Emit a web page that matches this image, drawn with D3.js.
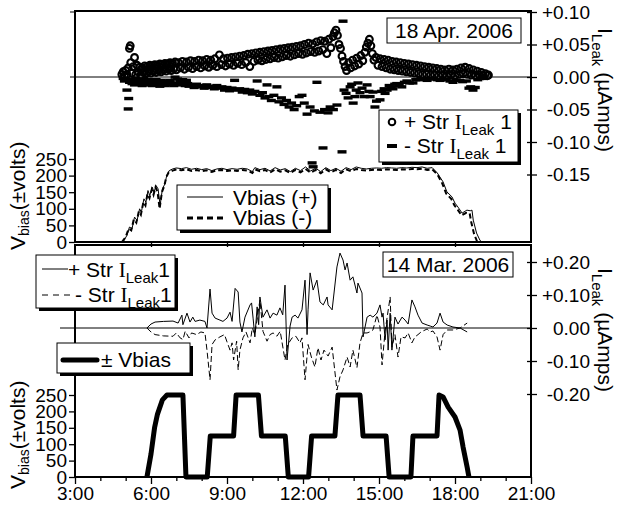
<!DOCTYPE html>
<html>
<head>
<meta charset="utf-8">
<script src="https://d3js.org/d3.v7.min.js"></script>
<style>
  body { margin: 0; background: #fff; }
  svg { display: block; font-family: "Liberation Sans", Arial, sans-serif; }
</style>
</head>
<body>
<div id="chart"></div>
<script>
// ---- data (hours of day, µA / volts) ----
// 18 Apr. 2006 : + string leak current (circles)
const aprPlusLeak = [
  [4.85,0.004],[4.9,0.008],[4.95,0.002],[5.0,0.01],[5.05,0.004],[5.1,0.014],[5.15,0.044],[5.18,0.048],[5.2,0.022],
  [5.25,0.006],[5.3,0.016],[5.35,0.03],[5.4,0.004],[5.45,0.018],[5.5,0.008],[5.55,0.015],[5.6,0.003],[5.65,0.014],
  [5.7,0.007],[5.75,0.017],[5.8,0.005],[5.85,0.016],[5.9,0.008],[5.95,0.018],[6.0,0.006],[6.05,0.017],[6.1,0.009],
  [6.15,0.019],[6.2,0.007],[6.25,0.018],[6.3,0.01],[6.35,0.02],[6.4,0.008],[6.45,0.019],[6.5,0.011],[6.55,0.021],
  [6.6,0.009],[6.65,0.02],[6.7,0.012],[6.75,0.022],[6.8,0.01],[6.85,0.021],[6.9,0.013],[6.95,0.023],[7.0,0.011],
  [7.08,0.022],[7.16,0.014],[7.24,0.024],[7.32,0.012],[7.4,0.023],[7.48,0.015],[7.56,0.025],[7.64,0.013],
  [7.72,0.024],[7.8,0.016],[7.88,0.026],[7.96,0.014],[8.04,0.025],[8.12,0.017],[8.2,0.027],[8.28,0.015],
  [8.36,0.026],[8.44,0.018],[8.52,0.028],[8.6,0.016],[8.7,0.034],[8.78,0.019],[8.86,0.028],[8.94,0.017],
  [9.02,0.029],[9.1,0.02],[9.18,0.03],[9.26,0.018],[9.34,0.031],[9.42,0.021],[9.5,0.032],[9.58,0.019],
  [9.66,0.033],[9.74,0.022],[9.82,0.035],[9.9,0.016],[9.98,0.036],[10.06,0.024],[10.14,0.037],[10.22,0.026],
  [10.3,0.038],[10.38,0.025],[10.46,0.039],[10.54,0.027],[10.62,0.04],[10.7,0.028],[10.78,0.041],[10.86,0.03],
  [10.94,0.042],[11.02,0.029],[11.1,0.043],[11.18,0.031],[11.26,0.044],[11.34,0.033],[11.42,0.045],[11.5,0.032],
  [11.58,0.046],[11.66,0.034],[11.74,0.047],[11.82,0.036],[11.9,0.048],[11.98,0.035],[12.06,0.05],[12.14,0.037],
  [12.22,0.052],[12.3,0.039],[12.38,0.051],[12.46,0.038],[12.54,0.054],[12.62,0.04],[12.7,0.056],[12.78,0.042],
  [12.86,0.055],[12.94,0.036],[13.02,0.058],[13.1,0.045],[13.18,0.062],[13.24,0.068],[13.3,0.072],[13.36,0.064],
  [13.42,0.05],[13.48,0.044],[13.54,0.032],[13.6,0.024],[13.66,0.016],[13.72,0.01],[13.8,0.022],[13.88,0.014],
  [13.96,0.026],[14.04,0.017],[14.12,0.029],[14.2,0.02],[14.28,0.033],[14.36,0.025],[14.44,0.038],[14.5,0.046],
  [14.56,0.052],[14.62,0.058],[14.68,0.048],[14.74,0.036],[14.8,0.026],[14.88,0.03],[14.96,0.018],[15.04,0.028],
  [15.12,0.016],[15.2,0.027],[15.28,0.014],[15.36,0.026],[15.44,0.012],[15.52,0.024],[15.6,0.011],[15.68,0.023],
  [15.76,0.01],[15.84,0.022],[15.92,0.009],[16.0,0.021],[16.08,0.008],[16.16,0.02],[16.24,0.007],[16.32,0.019],
  [16.4,0.006],[16.48,0.018],[16.56,0.005],[16.64,0.017],[16.72,0.004],[16.8,0.016],[16.88,0.004],[16.96,0.015],
  [17.04,0.003],[17.12,0.014],[17.2,0.003],[17.28,0.013],[17.36,0.002],[17.44,0.012],[17.52,0.003],[17.6,0.011],
  [17.68,0.002],[17.76,0.012],[17.84,0.003],[17.92,0.011],[18.0,0.002],[18.08,0.012],[18.16,0.004],[18.24,0.014],
  [18.32,0.005],[18.4,0.015],[18.48,0.004],[18.56,0.013],[18.64,0.003],[18.72,0.011],[18.8,0.002],[18.88,0.009],
  [18.96,0.003],[19.04,0.007],[19.12,0.002],[19.2,0.005],[19.28,0.002],[19.32,0.003]
];

// 18 Apr. 2006 : - string leak current (dashes)
const aprMinusLeak = [
  [4.9,-0.002],[4.95,-0.006],[5.0,-0.004],[5.05,-0.02],[5.1,-0.049],[5.12,-0.033],[5.15,-0.008],[5.2,-0.003],
  [5.25,-0.01],[5.3,-0.005],[5.35,-0.012],[5.4,-0.002],[5.45,-0.008],[5.5,-0.004],[5.55,-0.011],[5.6,-0.006],
  [5.65,-0.013],[5.7,-0.003],[5.75,-0.009],[5.8,-0.005],[5.85,-0.012],[5.9,-0.007],[5.95,-0.01],[6.0,-0.004],
  [6.05,-0.013],[6.1,-0.006],[6.15,-0.01],[6.2,-0.004],[6.25,-0.012],[6.3,-0.007],[6.35,-0.014],[6.4,-0.005],
  [6.45,-0.011],[6.5,-0.008],[6.55,-0.013],[6.6,-0.006],[6.65,-0.01],[6.7,-0.012],[6.75,-0.005],[6.8,-0.009],
  [6.9,-0.013],[6.95,0.0],[7.0,-0.01],[7.05,-0.003],[7.1,-0.012],[7.15,-0.006],[7.2,-0.011],[7.25,-0.004],
  [7.3,-0.009],[7.35,-0.013],[7.4,-0.005],[7.45,-0.01],[7.5,-0.014],[7.6,-0.012],[7.7,-0.016],[7.8,-0.011],
  [7.9,-0.015],[8.0,-0.013],[8.1,-0.017],[8.2,-0.012],[8.3,-0.016],[8.4,-0.014],[8.5,-0.018],[8.6,-0.013],
  [8.7,-0.017],[8.8,-0.015],[8.9,-0.02],[9.0,-0.016],[9.1,-0.021],[9.2,-0.017],[9.3,-0.005],[9.4,-0.02],
  [9.5,-0.018],[9.6,-0.023],[9.7,-0.019],[9.8,-0.024],[9.9,-0.02],[10.0,-0.026],[10.1,-0.022],[10.19,-0.006],
  [10.3,-0.028],[10.4,-0.024],[10.5,-0.032],[10.58,-0.012],[10.65,-0.03],[10.75,-0.036],[10.85,-0.028],
  [10.97,-0.015],[11.05,-0.038],[11.15,-0.032],[11.25,-0.042],[11.35,-0.036],[11.45,-0.046],[11.55,-0.04],
  [11.65,-0.05],[11.75,-0.044],[11.85,-0.03],[11.96,-0.028],[12.05,-0.04],[12.16,-0.057],[12.28,-0.046],
  [12.36,-0.132],[12.4,-0.138],[12.45,-0.052],[12.55,-0.008],[12.67,-0.054],[12.79,-0.109],[12.85,-0.05],
  [12.99,-0.055],[13.07,-0.046],[13.2,-0.05],[13.34,-0.043],[13.54,-0.115],[13.58,0.086],[13.62,-0.02],
  [13.7,-0.025],[13.78,-0.032],[13.86,-0.015],[13.92,-0.011],[13.98,-0.04],[14.05,-0.03],[14.1,-0.02],
  [14.17,-0.009],[14.25,-0.024],[14.33,-0.017],[14.42,-0.03],[14.53,-0.012],[14.6,-0.022],[14.65,-0.03],
  [14.76,-0.023],[14.84,-0.046],[14.9,-0.037],[15.04,-0.035],[15.1,-0.022],[15.2,-0.018],[15.24,-0.025],
  [15.32,-0.02],[15.4,-0.013],[15.48,-0.016],[15.55,-0.018],[15.62,-0.011],[15.7,-0.01],[15.8,-0.013],
  [15.9,-0.015],[16.0,-0.008],[16.1,-0.006],[16.2,-0.009],[16.34,-0.009],[16.45,-0.004],[16.6,-0.004],
  [16.75,-0.003],[16.9,-0.005],[17.05,-0.002],[17.15,-0.003],[17.3,-0.004],[17.41,-0.005],[17.55,-0.003],
  [17.65,-0.004],[17.8,-0.006],[17.92,-0.008],[18.05,-0.005],[18.2,-0.005],[18.3,-0.007],[18.45,-0.006],
  [18.55,-0.017],[18.62,-0.015],[18.71,-0.02],[18.8,-0.016],[18.9,-0.004],[19.1,-0.002]
];

// 18 Apr. 2006 : bias voltages
const aprVbiasPlus = [
  [4.9,0],[5.05,20],[5.15,45],[5.25,40],[5.35,75],[5.45,65],[5.55,100],[5.62,90],[5.72,130],[5.8,120],
  [5.88,155],[5.95,140],[6.05,165],[6.12,150],[6.2,170],[6.28,160],[6.36,110],[6.45,160],[6.55,175],[6.62,200],
  [6.72,215],[6.85,220],[7.0,223],[7.2,221],[7.4,224],[7.6,219],[7.8,222],[8.0,218],[8.2,221],[8.4,215],
  [8.6,220],[8.8,222],[9.0,218],[9.2,221],[9.4,219],[9.6,222],[9.8,220],[10.0,212],[10.1,224],[10.3,218],
  [10.5,222],[10.7,214],[10.9,224],[11.1,217],[11.3,221],[11.5,212],[11.7,222],[11.9,215],[12.1,226],[12.3,214],
  [12.5,222],[12.7,212],[12.9,224],[13.1,215],[13.3,222],[13.5,213],[13.7,224],[13.9,218],[14.1,226],[14.3,222],
  [14.5,220],[14.7,222],[14.9,223],[15.1,222],[15.3,224],[15.5,223],[15.7,222],[15.9,224],[16.1,223],[16.3,225],
  [16.5,224],[16.7,226],[16.9,222],[17.1,224],[17.3,208],[17.53,181],[17.68,151],[17.88,136],[18.0,117],
  [18.12,105],[18.28,87],[18.47,96],[18.6,94],[18.67,96],[18.72,66],[18.85,27],[18.98,6],[19.05,0]
];
const aprVbiasMinus = [
  [4.85,0],[5.0,15],[5.12,40],[5.22,35],[5.32,68],[5.42,58],[5.52,92],[5.6,82],[5.7,120],[5.78,110],
  [5.86,145],[5.94,132],[6.03,158],[6.1,142],[6.18,165],[6.26,150],[6.34,100],[6.43,150],[6.53,170],[6.6,195],
  [6.7,210],[6.85,215],[7.0,218],[7.2,216],[7.4,219],[7.6,214],[7.8,217],[8.0,213],[8.2,216],[8.4,211],
  [8.6,216],[8.8,217],[9.0,214],[9.2,216],[9.4,214],[9.6,217],[9.8,215],[10.0,208],[10.1,219],[10.3,213],
  [10.5,217],[10.7,209],[10.9,219],[11.1,212],[11.3,216],[11.5,208],[11.7,217],[11.9,210],[12.1,220],[12.3,209],
  [12.5,217],[12.7,207],[12.9,219],[13.1,210],[13.3,217],[13.5,208],[13.7,219],[13.9,213],[14.1,220],[14.3,217],
  [14.5,215],[14.7,217],[14.9,218],[15.1,217],[15.3,219],[15.5,218],[15.7,217],[15.9,219],[16.1,218],[16.3,220],
  [16.5,219],[16.7,221],[16.9,217],[17.1,219],[17.3,204],[17.5,176],[17.65,146],[17.85,130],[17.98,110],
  [18.1,98],[18.26,80],[18.44,88],[18.58,86],[18.64,60],[18.75,25],[18.88,0]
];

// 14 Mar. 2006 : leak currents (lines)
const marPlusLeak = [
  [5.84,0.0],[6.0,0.012],[6.16,0.018],[6.5,0.02],[6.87,0.021],[7.07,0.015],[7.22,0.039],[7.26,0.01],[7.42,0.045],
  [7.54,0.018],[7.65,0.033],[7.74,0.02],[7.93,0.024],[8.13,0.02],[8.21,0.0],[8.33,0.118],[8.41,0.045],[8.53,0.03],
  [8.72,0.024],[8.84,0.02],[9.0,0.03],[9.12,0.048],[9.2,0.02],[9.32,0.12],[9.44,0.109],[9.51,0.018],[9.59,-0.012],
  [9.71,0.033],[9.91,0.07],[9.97,0.076],[10.03,0.03],[10.1,-0.027],[10.19,0.064],[10.25,0.01],[10.3,0.094],
  [10.42,0.033],[10.58,0.055],[10.7,0.03],[10.82,0.045],[10.97,0.039],[11.09,0.061],[11.2,0.04],[11.29,0.13],
  [11.37,-0.097],[11.49,0.006],[11.57,0.033],[11.69,0.039],[11.8,0.03],[11.96,0.055],[12.08,0.145],[12.16,-0.02],
  [12.2,0.055],[12.28,0.167],[12.4,0.115],[12.55,0.145],[12.67,0.079],[12.8,0.07],[12.95,0.094],[12.99,0.07],
  [13.15,0.055],[13.34,0.185],[13.46,0.227],[13.58,0.206],[13.66,0.176],[13.74,0.197],[13.86,0.145],[13.97,0.155],
  [14.13,0.106],[14.17,0.136],[14.33,0.106],[14.37,-0.027],[14.53,0.033],[14.65,0.039],[14.76,0.033],[14.92,0.045],
  [15.04,0.07],[15.12,0.033],[15.16,0.045],[15.24,-0.036],[15.32,0.024],[15.36,-0.067],[15.44,0.045],[15.51,-0.067],
  [15.63,0.033],[15.75,0.012],[15.91,0.033],[16.03,0.024],[16.15,0.012],[16.3,0.085],[16.42,0.064],[16.54,0.039],
  [16.7,0.015],[16.9,0.009],[17.02,0.006],[17.13,0.003],[17.29,0.015],[17.41,0.045],[17.53,0.018],[17.69,0.009],
  [17.92,0.003],[18.2,0.0],[18.48,-0.012]
];
const marMinusLeak = [
  [5.84,0.0],[6.0,-0.012],[6.16,-0.02],[6.5,-0.024],[6.87,-0.025],[7.0,-0.015],[7.15,-0.03],[7.26,-0.035],
  [7.35,-0.01],[7.5,-0.03],[7.6,-0.015],[7.8,-0.02],[7.97,-0.012],[8.13,-0.015],[8.21,-0.067],[8.33,-0.157],
  [8.41,-0.05],[8.53,-0.036],[8.72,-0.027],[8.9,-0.02],[9.0,-0.042],[9.12,-0.067],[9.2,-0.045],[9.26,-0.097],
  [9.38,-0.04],[9.44,-0.127],[9.51,-0.067],[9.63,-0.03],[9.75,-0.012],[9.91,-0.045],[10.0,0.0],[10.1,-0.02],
  [10.3,0.085],[10.42,-0.01],[10.58,-0.04],[10.7,-0.02],[10.82,-0.015],[10.97,-0.025],[11.1,-0.01],[11.29,-0.097],
  [11.4,-0.05],[11.57,-0.03],[11.72,-0.025],[11.88,-0.045],[11.96,-0.03],[12.08,-0.157],[12.2,-0.05],[12.33,-0.088],
  [12.47,-0.118],[12.59,-0.06],[12.71,-0.097],[12.83,-0.067],[12.99,-0.085],[13.15,-0.058],[13.34,-0.188],
  [13.46,-0.148],[13.58,-0.127],[13.74,-0.088],[13.86,-0.118],[13.97,-0.067],[14.13,-0.12],[14.25,-0.045],
  [14.37,-0.015],[14.53,-0.015],[14.7,-0.01],[14.76,-0.006],[14.92,0.039],[15.04,0.003],[15.12,-0.112],
  [15.24,-0.01],[15.44,0.094],[15.51,-0.058],[15.63,-0.02],[15.75,-0.088],[15.87,-0.027],[16.03,-0.03],
  [16.15,-0.015],[16.3,-0.045],[16.42,-0.027],[16.54,-0.02],[16.66,-0.012],[16.9,-0.003],[17.02,-0.012],
  [17.13,-0.009],[17.29,-0.027],[17.41,-0.067],[17.53,-0.02],[17.69,-0.006],[17.92,-0.006],[18.2,0.0],[18.48,0.015]
];

// 14 Mar. 2006 : ± bias steps
const marVbias = [
  [5.84,0],[6.0,70],[6.14,150],[6.25,190],[6.45,235],[6.63,250],[7.26,250],[7.38,0],[8.22,0],[8.34,125],
  [9.26,125],[9.36,250],[10.24,250],[10.36,125],[11.3,125],[11.42,0],[12.22,0],[12.34,125],[13.26,125],
  [13.38,250],[14.25,250],[14.37,125],[15.28,125],[15.4,0],[16.26,0],[16.34,125],[17.29,125],[17.37,250],
  [17.53,244],[17.73,213],[18.0,183],[18.2,143],[18.32,91],[18.48,30],[18.55,0]
];

// ---- ticks ----
const hourMajor = [3, 6, 9, 12, 15, 18, 21];
const hourLabels = ['3:00', '6:00', '9:00', '12:00', '15:00', '18:00', '21:00'];
const hourMinor = [4, 5, 7, 8, 10, 11, 13, 14, 16, 17, 19, 20];
const vbiasTicks = [0, 50, 100, 150, 200, 250];
const aprLeakTicks = [0.10, 0.05, 0, -0.05, -0.10, -0.15];
const aprLeakLabels = ['+0.10', '+0.05', '0.00', '-0.05', '-0.10', '-0.15'];
const marLeakTicks = [0.20, 0.10, 0, -0.10, -0.20];
const marLeakLabels = ['+0.20', '+0.10', '0.00', '-0.10', '-0.20'];

const W = 618, H = 505;
const SERIF = '"Liberation Serif", "Times New Roman", serif';

const svg = d3.select('#chart').append('svg').attr('width', W).attr('height', H);

// scales
const x = d3.scaleLinear().domain([3, 21]).range([75, 531]);
const topV = d3.scaleLinear().domain([0, 250]).range([242, 159]);
const topI = d3.scaleLinear().domain([0, 0.1]).range([77, 12]);
const botV = d3.scaleLinear().domain([0, 250]).range([477, 395]);
const botI = d3.scaleLinear().domain([0, 0.2]).range([328, 262]);

const panelTop = {y0: 11, y1: 242};
const panelBot = {y0: 245, y1: 477};

// zero lines
svg.append('line').attr('x1', 70).attr('x2', x(21)).attr('y1', topI(0)).attr('y2', topI(0))
  .attr('stroke', '#000').attr('stroke-width', 1);
svg.append('line').attr('x1', 60).attr('x2', x(21)).attr('y1', botI(0)).attr('y2', botI(0))
  .attr('stroke', '#000').attr('stroke-width', 1);
svg.append('line').attr('x1', 70).attr('x2', 75).attr('y1', topI(0.1)).attr('y2', topI(0.1))
  .attr('stroke', '#000').attr('stroke-width', 1);

// ---- top panel data ----
const lineTV = d3.line().x(d => x(d[0])).y(d => topV(d[1]));
svg.append('path').datum(aprVbiasPlus).attr('d', lineTV)
  .attr('fill', 'none').attr('stroke', '#000').attr('stroke-width', 1);
svg.append('path').datum(aprVbiasMinus).attr('d', lineTV)
  .attr('fill', 'none').attr('stroke', '#000').attr('stroke-width', 2).attr('stroke-dasharray', '5,3');

svg.append('g').selectAll('rect')
  .data(aprMinusLeak).enter()
  .append('rect')
  .attr('x', d => x(d[0]) - 4.5).attr('y', d => topI(d[1]) - 1.6)
  .attr('width', 9).attr('height', 3.4).attr('fill', '#000');

svg.append('g').selectAll('circle')
  .data(aprPlusLeak).enter()
  .append('circle')
  .attr('cx', d => x(d[0])).attr('cy', d => topI(d[1]))
  .attr('r', 3.4).attr('fill', 'none').attr('stroke', '#000').attr('stroke-width', 2.1);

// ---- bottom panel data ----
const lineBI = d3.line().x(d => x(d[0])).y(d => botI(d[1]));
svg.append('path').datum(marMinusLeak).attr('d', lineBI)
  .attr('fill', 'none').attr('stroke', '#000').attr('stroke-width', 1).attr('stroke-dasharray', '6,3');
svg.append('path').datum(marPlusLeak).attr('d', lineBI)
  .attr('fill', 'none').attr('stroke', '#000').attr('stroke-width', 1);
svg.append('path').datum(marVbias)
  .attr('d', d3.line().x(d => x(d[0])).y(d => botV(d[1])))
  .attr('fill', 'none').attr('stroke', '#000').attr('stroke-width', 5).attr('stroke-linejoin', 'round');

// ---- frames ----
[panelTop, panelBot].forEach(p => {
  svg.append('rect').attr('x', x(3)).attr('y', p.y0)
    .attr('width', x(21) - x(3)).attr('height', p.y1 - p.y0)
    .attr('fill', 'none').attr('stroke', '#000').attr('stroke-width', 2);
});

// ---- axes ----
function styleAxis(g, size) {
  g.select('.domain').remove();
  g.selectAll('text').attr('font-size', size).attr('font-family', '"Liberation Sans", Arial, sans-serif').attr('fill', '#000');
  g.selectAll('line').attr('stroke', '#000').attr('stroke-width', 1.3);
}

const vFormat = (d) => String(d);
svg.append('g').attr('transform', 'translate(75,0)')
  .call(d3.axisLeft(topV).tickValues(vbiasTicks).tickSize(6).tickPadding(2).tickFormat(vFormat))
  .call(g => styleAxis(g, 19));
svg.append('g').attr('transform', 'translate(75,0)')
  .call(d3.axisLeft(botV).tickValues(vbiasTicks).tickSize(6).tickPadding(2).tickFormat(vFormat))
  .call(g => styleAxis(g, 19));

function rightAxis(scale, vals, labels) {
  svg.append('g').attr('transform', 'translate(531,0)')
    .call(d3.axisRight(scale).tickValues(vals).tickSize(6).tickFormat((d, i) => labels[i]))
    .call(g => {
      styleAxis(g, 19);
      g.selectAll('line').attr('x1', -4);
      g.selectAll('text').attr('x', 59).attr('text-anchor', 'end');
    });
}
rightAxis(topI, aprLeakTicks, aprLeakLabels);
rightAxis(botI, marLeakTicks, marLeakLabels);

// x ticks under top panel (no labels)
svg.append('g').attr('transform', 'translate(0,' + panelTop.y1 + ')')
  .call(d3.axisBottom(x).tickValues(hourMajor.slice(1, -1)).tickSize(5).tickFormat(''))
  .call(g => styleAxis(g, 10));

// bottom time axis
svg.append('g').attr('transform', 'translate(0,' + panelBot.y1 + ')')
  .call(d3.axisBottom(x).tickValues(hourMinor).tickSize(4).tickFormat(''))
  .call(g => styleAxis(g, 10));
svg.append('g').attr('transform', 'translate(0,' + panelBot.y1 + ')')
  .call(d3.axisBottom(x).tickValues(hourMajor).tickSize(7).tickPadding(3).tickFormat((d, i) => hourLabels[i]))
  .call(g => styleAxis(g, 19));

// ---- axis titles ----
function vbiasTitle(tx, ty) {
  const t = svg.append('text').attr('transform', `translate(${tx},${ty}) rotate(-90)`).attr('font-size', 21);
  t.append('tspan').text('V');
  t.append('tspan').attr('font-size', 14).attr('dy', 4).text('bias');
  t.append('tspan').attr('dy', -4).text('(±volts)');
}
vbiasTitle(25, 250);
vbiasTitle(25, 489);

function leakTitle(tx, ty) {
  const t = svg.append('text').attr('transform', `translate(${tx},${ty}) rotate(90)`).attr('font-size', 21);
  t.append('tspan').text('I');
  t.append('tspan').attr('font-size', 15).attr('dy', 6).text('Leak');
  t.append('tspan').attr('dy', -6).text(' (µAmps)');
}
leakTitle(598, 28);
leakTitle(598, 268);

// ---- legends ----
function box(x0, y0, w, h, shadow) {
  if (shadow) {
    svg.append('rect').attr('x', x0 + 3).attr('y', y0 + 3).attr('width', w).attr('height', h).attr('fill', '#000');
  }
  svg.append('rect').attr('x', x0).attr('y', y0).attr('width', w).attr('height', h)
    .attr('fill', '#fff').attr('stroke', '#000').attr('stroke-width', 1);
}

function leakLabel(tx, ty, prefix, suffix, size) {
  const t = svg.append('text').attr('x', tx).attr('y', ty).attr('font-size', size);
  t.append('tspan').text(prefix);
  t.append('tspan').attr('font-family', SERIF).text('I');
  t.append('tspan').attr('font-size', 15).attr('dy', 6).text('Leak');
  t.append('tspan').attr('dy', -6).text(suffix);
}

function dateBox(x0, y0, w, h, label) {
  box(x0, y0, w, h, false);
  svg.append('text').attr('x', x0 + w / 2).attr('y', y0 + h - 5).attr('text-anchor', 'middle')
    .attr('font-size', 21).text(label);
}

dateBox(387, 18, 134, 25, '18 Apr. 2006');
dateBox(383, 252, 130, 25, '14 Mar. 2006');

// top: leak legend
box(379, 110, 139, 52, true);
svg.append('circle').attr('cx', 392).attr('cy', 122).attr('r', 3.3)
  .attr('fill', 'none').attr('stroke', '#000').attr('stroke-width', 2);
svg.append('rect').attr('x', 387).attr('y', 144).attr('width', 10).attr('height', 4).attr('fill', '#000');
leakLabel(404, 129, '+ Str ', ' 1', 21);
leakLabel(404, 153, '- Str ', ' 1', 21);

// top: vbias legend
box(177, 185, 151, 45, true);
svg.append('line').attr('x1', 187).attr('x2', 223).attr('y1', 197).attr('y2', 197)
  .attr('stroke', '#000').attr('stroke-width', 1);
svg.append('line').attr('x1', 187).attr('x2', 227).attr('y1', 218).attr('y2', 218)
  .attr('stroke', '#000').attr('stroke-width', 3).attr('stroke-dasharray', '6,4');
svg.append('text').attr('x', 233).attr('y', 205).attr('font-size', 21).text('Vbias (+)');
svg.append('text').attr('x', 233).attr('y', 225).attr('font-size', 21).text('Vbias (-)');

// bottom: leak legend
box(36, 255, 139, 53, true);
svg.append('line').attr('x1', 42).attr('x2', 68).attr('y1', 269).attr('y2', 269)
  .attr('stroke', '#000').attr('stroke-width', 1);
svg.append('line').attr('x1', 42).attr('x2', 74).attr('y1', 295).attr('y2', 295)
  .attr('stroke', '#000').attr('stroke-width', 1).attr('stroke-dasharray', '6,5');
leakLabel(68, 277, '+ Str ', '1', 21);
leakLabel(75, 302, '- Str ', '1', 21);

// bottom: ± vbias legend
box(57, 343, 133, 30, true);
svg.append('line').attr('x1', 63).attr('x2', 97).attr('y1', 360).attr('y2', 360)
  .attr('stroke', '#000').attr('stroke-width', 5).attr('stroke-linecap', 'round');
svg.append('text').attr('x', 101).attr('y', 367).attr('font-size', 21).text('± Vbias');
</script>
</body>
</html>
